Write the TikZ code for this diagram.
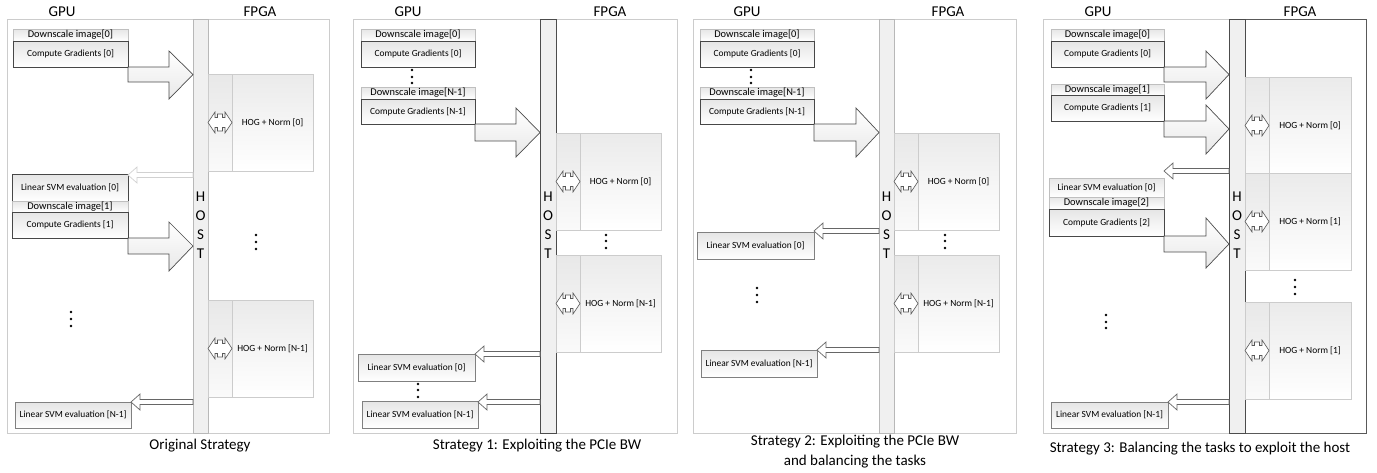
\documentclass[tikz,border=0pt]{standalone}
\usepackage{fontspec}
\setmainfont{Carlito}
\newcommand\bfnt{\fontsize{9.4}{10}\selectfont}
\newcommand\dfnt{\fontsize{10.4}{10.5}\selectfont}
\newcommand\ofnt{\fontsize{9.4}{10}\selectfont}
\newcommand\hfnt{\fontsize{15}{17}\selectfont}
\newcommand\TBox[7]{\node[gbox,#6,minimum width={#4-#2},minimum height={#5-#3}] (#1) at ({(#2+#4)/2},{(#3+#5)/2}) {#7};}
\newcommand\Rect[6]{\node[#6,inner sep=0pt,outer sep=0pt,minimum width={#4-#2},minimum height={#5-#3}] (#1) at ({(#2+#4)/2},{(#3+#5)/2}) {};}
\newcommand\BArr[7]{\draw[bigarr] (#1,#2) -- (#4,#2) -- (#4,#5) -- (#7,{(#2+#3)/2}) -- (#4,#6) -- (#4,#3) -- (#1,#3) -- cycle;}
\newcommand\LArr[4]{\draw[#4] (#1,#2) -- ({#1+9},{#2-8}) -- ({#1+9},{#2-2.5}) -- (#3,{#2-2.5}) -- (#3,{#2+2.5}) -- ({#1+9},{#2+2.5}) -- ({#1+9},{#2+8}) -- cycle;}
\newcommand\DArr[2]{\draw[darr] ({#1-12},#2) -- ({#1-5},{#2-10.5}) -- ({#1-5},{#2-5}) -- ({#1-2.5},{#2-5}) -- ({#1-2.5},{#2-8.5}) -- ({#1+2.5},{#2-8.5}) -- ({#1+2.5},{#2-5}) -- ({#1+5},{#2-5}) -- ({#1+5},{#2-10.5}) -- ({#1+12},#2) -- ({#1+5},{#2+10.5}) -- ({#1+5},{#2+5}) -- ({#1+2.5},{#2+5}) -- ({#1+2.5},{#2+8.5}) -- ({#1-2.5},{#2+8.5}) -- ({#1-2.5},{#2+5}) -- ({#1-5},{#2+5}) -- ({#1-5},{#2+10.5}) -- cycle;}
\newcommand\HOG[5]{%
  \node[hogbox,minimum width=#5,minimum height=97,anchor=north west] (#1) at (#2,#3) {};
  \node[hogleft,minimum width=24,minimum height=97,anchor=north west] (#1l) at (#2,#3) {};
  \node[otxt] (#1t) at ({#2+24+(#5-24)/2},{#3+48.5}) {#4};
  \DArr{#2+12}{#3+48.5}}
\newcommand\VDots[5]{\node[dotn] (#1a) at (#2,#3) {};\node[dotn] (#1b) at (#2,#4) {};\node[dotn] (#1c) at (#2,#5) {};}
\newcommand\HostTxt[2]{\node[htxt] (#1h) at (#2,197) {H};\node[htxt] (#1o) at (#2,216) {O};\node[htxt] (#1s) at (#2,235) {S};\node[htxt] (#1t) at (#2,254) {T};}
\begin{document}
\begin{tikzpicture}[x=1pt,y=-1pt,
  gbox/.style={top color=black!10,bottom color=white,inner sep=0pt,outer sep=0pt,line width=0.7pt,font=\bfnt},
  lt/.style={draw=black!25},
  ds/.style={draw=black!25,font=\dfnt},
  dk/.style={draw=black!72},
  md/.style={draw=black!50},
  frame/.style={draw=black!20,line width=0.7pt},
  framedk/.style={draw=black!65,line width=0.9pt},
  hostlt/.style={draw=black!28,fill=black!6,line width=0.7pt},
  hostdk/.style={draw=black!70,fill=black!6,line width=0.9pt},
  bigarr/.style={draw=black!70,line width=0.7pt,top color=white,bottom color=black!9},
  larr/.style={draw=black!60,fill=white,line width=0.7pt},
  faint/.style={draw=black!18,fill=white,line width=0.7pt},
  hogbox/.style={draw=black!20,top color=black!8,bottom color=white,inner sep=0pt,outer sep=0pt,line width=0.7pt},
  hogleft/.style={draw=black!20,top color=black!9,bottom color=black!2,inner sep=0pt,outer sep=0pt,line width=0.7pt},
  darr/.style={draw=black!65,fill=white,line width=0.6pt},
  otxt/.style={font=\ofnt,inner sep=0pt},
  htxt/.style={font=\hfnt,inner sep=0pt},
  hdr/.style={font=\hfnt,inner sep=0pt},
  captxt/.style={font=\hfnt,inner sep=0pt},
  dotn/.style={circle,fill=black,inner sep=0pt,minimum size=2.6pt}]
\useasboundingbox (0,0) rectangle (1377,472);
% ---------------- Panel 1 ----------------
\Rect{f1}{7}{19}{329}{433}{frame}
\Rect{h1}{193}{19}{208}{433}{hostlt}
\HostTxt{p1}{200.5}
\node[hdr] (p1gpu) at (62,12) {GPU};
\node[hdr] (p1fpga) at (260,12) {FPGA};
\TBox{p1ds0}{13}{29}{128}{41}{ds}{Downscale image[0]}
\TBox{p1cg0}{13}{41}{128}{67}{dk}{Compute Gradients [0]}
\BArr{128}{67}{82}{169}{51}{99}{193}
\HOG{p1hog0}{208}{74}{HOG + Norm [0]}{105}
\TBox{p1sv0}{12}{174}{128}{201}{dk}{Linear SVM evaluation [0]}
\LArr{128}{175}{193}{faint}
\TBox{p1ds1}{12}{201}{128}{212}{ds}{Downscale image[1]}
\TBox{p1cg1}{12}{212}{128}{238}{dk}{Compute Gradients [1]}
\BArr{128}{238}{254}{169}{222}{271}{193}
\VDots{p1fd}{256}{235}{242}{249}
\HOG{p1hogN}{208}{300}{HOG + Norm [N-1]}{105}
\VDots{p1gd}{71}{312}{319}{326}
\TBox{p1svN}{15}{402}{131}{428}{md}{Linear SVM evaluation [N-1]}
\LArr{131}{402}{193}{larr}
\node[captxt] (p1cap) at (200,446) {Original Strategy};
% ---------------- Panel 2 ----------------
\Rect{f2}{353}{19}{677}{433}{frame}
\Rect{h2}{540}{19}{556}{433}{hostdk}
\HostTxt{p2}{548}
\node[hdr] (p2gpu) at (408,12) {GPU};
\node[hdr] (p2fpga) at (610,12) {FPGA};
\TBox{p2ds0}{361}{29}{475}{41}{ds}{Downscale image[0]}
\TBox{p2cg0}{361}{41}{475}{67}{dk}{Compute Gradients [0]}
\VDots{p2gd1}{412}{70}{77}{83}
\TBox{p2dsN}{361}{87}{475}{99}{ds}{Downscale image[N-1]}
\TBox{p2cgN}{361}{99}{475}{124}{dk}{Compute Gradients [N-1]}
\BArr{475}{124}{141}{516}{108}{157}{540}
\HOG{p2hog0}{556}{133}{HOG + Norm [0]}{105}
\VDots{p2fd}{606}{235}{241}{248}
\HOG{p2hogN}{556}{255}{HOG + Norm [N-1]}{105}
\TBox{p2sv0}{358}{354}{475}{381}{md}{Linear SVM evaluation [0]}
\LArr{475}{354}{540}{larr}
\VDots{p2gd2}{418}{384}{390}{397}
\TBox{p2svN}{362}{401}{478}{428}{md}{Linear SVM evaluation [N-1]}
\LArr{478}{402}{540}{larr}
\node[captxt] (p2cap) at (537,446) {Strategy 1: Exploiting the PCIe BW};
% ---------------- Panel 3 ----------------
\Rect{f3}{693}{19}{1016}{433}{frame}
\Rect{h3}{879}{19}{894}{433}{hostlt}
\HostTxt{p3}{886.5}
\node[hdr] (p3gpu) at (747,12) {GPU};
\node[hdr] (p3fpga) at (948,12) {FPGA};
\TBox{p3ds0}{700}{29}{814}{41}{ds}{Downscale image[0]}
\TBox{p3cg0}{700}{41}{814}{67}{dk}{Compute Gradients [0]}
\VDots{p3gd1}{751}{70}{77}{83}
\TBox{p3dsN}{700}{87}{814}{99}{ds}{Downscale image[N-1]}
\TBox{p3cgN}{700}{99}{814}{124}{dk}{Compute Gradients [N-1]}
\BArr{814}{124}{141}{856}{108}{157}{879}
\HOG{p3hog0}{894}{133}{HOG + Norm [0]}{105}
\VDots{p3fd}{945}{235}{241}{248}
\HOG{p3hogN}{894}{255}{HOG + Norm [N-1]}{105}
\TBox{p3sv0}{697}{232}{814}{259}{md}{Linear SVM evaluation [0]}
\LArr{814}{231}{879}{larr}
\VDots{p3gd2}{757}{288}{295}{302}
\TBox{p3svN}{701}{350}{817}{377}{md}{Linear SVM evaluation [N-1]}
\LArr{817}{350}{879}{larr}
\node[captxt] (p3cap1) at (855,442) {Strategy 2: Exploiting the PCIe BW};
\node[captxt] (p3cap2) at (855,462) {and balancing the tasks};
% ---------------- Panel 4 ----------------
\Rect{f4}{1043}{19}{1229}{433}{frame}
\Rect{f4b}{1245}{19}{1366}{433}{framedk}
\Rect{h4}{1229}{19}{1245}{433}{hostdk}
\HostTxt{p4}{1237}
\node[hdr] (p4gpu) at (1098,12) {GPU};
\node[hdr] (p4fpga) at (1300,12) {FPGA};
\TBox{p4ds0}{1051}{29}{1164}{41}{ds}{Downscale image[0]}
\TBox{p4cg0}{1051}{41}{1164}{67}{dk}{Compute Gradients [0]}
\BArr{1164}{67}{82}{1206}{51}{99}{1229}
\TBox{p4ds1}{1051}{84}{1164}{95}{ds}{Downscale image[1]}
\TBox{p4cg1}{1051}{95}{1164}{121}{dk}{Compute Gradients [1]}
\BArr{1164}{121}{137}{1206}{105}{154}{1229}
\HOG{p4hog0}{1245}{77}{HOG + Norm [0]}{106}
\HOG{p4hog1}{1245}{173}{HOG + Norm [1]}{106}
\TBox{p4sv0}{1049}{178}{1164}{197}{lt}{Linear SVM evaluation [0]}
\LArr{1164}{171}{1229}{larr}
\TBox{p4ds2}{1049}{197}{1164}{209}{ds}{Downscale image[2]}
\TBox{p4cg2}{1049}{209}{1164}{236}{dk}{Compute Gradients [2]}
\BArr{1164}{236}{252}{1206}{218}{268}{1229}
\VDots{p4fd}{1295}{280}{287}{294}
\HOG{p4hog2}{1245}{302}{HOG + Norm [1]}{106}
\VDots{p4gd}{1106}{315}{322}{328}
\TBox{p4svN}{1051}{402}{1168}{428}{md}{Linear SVM evaluation [N-1]}
\LArr{1168}{402}{1229}{larr}
\node[captxt] (p4cap) at (1200,449) {Strategy 3: Balancing the tasks to exploit the host};
\end{tikzpicture}
\end{document}
